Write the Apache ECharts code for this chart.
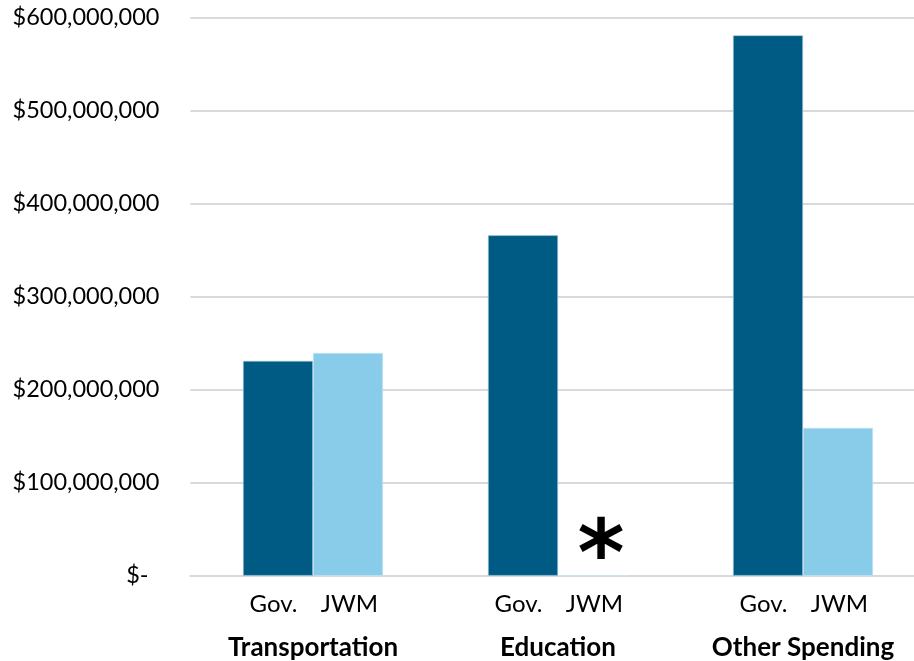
<!DOCTYPE html>
<html>
<head>
<meta charset="utf-8">
<script src="https://cdn.jsdelivr.net/npm/echarts@6/dist/echarts.min.js"></script>
<style>
html, body { margin: 0; padding: 0; background: #fff; }
#chart { width: 914px; height: 661px; }
</style>
</head>
<body>
<div id="chart"></div>
<script>
// categories and values
var categories = ['Transportation', 'Education', 'Other Spending'];
var govValues = [231000000, 366000000, 581000000];
var jwmValues = [239500000, null, 159000000];
// the asterisk stands where there is no JWM figure
var noDataMark = '*';

var darkBlue = '#005B84';
var lightBlue = '#88CCEA';
var font = 'Lato';

function money(v) {
    if (v === 0) return '{z|$-}';
    return '$' + v.toLocaleString('en-US');
}

var jwmData = jwmValues.map(function (v) {
    if (v === null) {
        return {
            value: 0,
            label: {
                show: true,
                position: 'insideBottom',
                formatter: noDataMark,
                fontFamily: 'DejaVu Sans',
                fontWeight: 'bold',
                fontSize: 90,
                color: '#000',
                offset: [8, 35]
            }
        };
    }
    return v;
});

var chart = echarts.init(document.getElementById('chart'));
chart.setOption({
    animation: false,
    grid: {
        left: 190.5,
        right: -11.5,
        top: 17.7,
        bottom: 85.3,
        outerBoundsMode: 'none'
    },
    xAxis: {
        type: 'category',
        data: categories,
        axisLine: { show: true, lineStyle: { color: '#D9D9D9', width: 2 } },
        axisTick: { show: false },
        axisLabel: {
            interval: 0,
            margin: 12,
            formatter: function (name) {
                return '{g|Gov.}{j|JWM}{e|}\n{c|' + name + '}';
            },
            rich: {
                g: { fontFamily: font, fontSize: 24, color: '#000', width: 76, align: 'center', lineHeight: 34 },
                j: { fontFamily: font, fontSize: 24, color: '#000', width: 76, align: 'center', lineHeight: 34 },
                e: { width: 3, align: 'center' },
                c: { fontFamily: font, fontSize: 26, fontWeight: 'bold', color: '#000', align: 'center', lineHeight: 52 }
            }
        }
    },
    yAxis: {
        type: 'value',
        min: 0,
        max: 600000000,
        interval: 100000000,
        axisLine: { show: false },
        axisTick: { show: false },
        splitLine: { lineStyle: { color: '#D9D9D9', width: 2 } },
        axisLabel: {
            margin: 31,
            fontFamily: font,
            fontSize: 23.5,
            color: '#000',
            formatter: money,
            rich: {
                z: { fontFamily: font, fontSize: 23.5, color: '#000', padding: [0, 11, 0, 0] }
            }
        }
    },
    series: [
        {
            name: 'Gov.',
            type: 'bar',
            data: govValues,
            barWidth: 70,
            barGap: '0%',
            itemStyle: { color: darkBlue, borderColor: '#A9CFE0', borderWidth: 0.6 }
        },
        {
            name: 'JWM',
            type: 'bar',
            data: jwmData,
            barWidth: 70,
            itemStyle: { color: lightBlue, borderColor: '#C9E8F5', borderWidth: 0.6 }
        }
    ]
});
</script>
</body>
</html>
